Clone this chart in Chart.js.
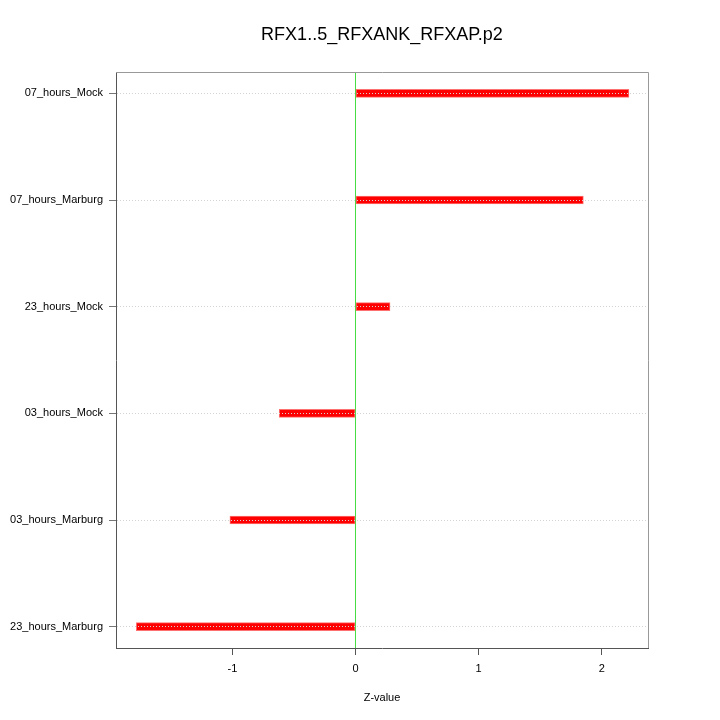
<!DOCTYPE html>
<html>
<head>
<meta charset="utf-8">
<script src="https://cdn.jsdelivr.net/npm/chart.js@4"></script>
<style>
  html, body { margin: 0; padding: 0; background: #fff; }
  #wrap { width: 720px; height: 720px; }
</style>
</head>
<body>
<div id="wrap"><canvas id="chart" width="720" height="720"></canvas></div>
<script>
// categories, top to bottom
const samples = ['07_hours_Mock', '07_hours_Marburg', '23_hours_Mock', '03_hours_Mock', '03_hours_Marburg', '23_hours_Marburg'];
const zValues = [2.22, 1.85, 0.28, -0.62, -1.02, -1.78];
const xTicks = [-1, 0, 1, 2];

const FONT = '"Liberation Sans", Arial, sans-serif';

// top and right sides of the box
const frame = {
    id: 'frame',
    afterDraw(chart) {
        const { ctx, chartArea: a } = chart;
        ctx.save();
        ctx.strokeStyle = '#999';
        ctx.lineWidth = 1;
        ctx.beginPath();
        ctx.moveTo(a.left, a.top + 0.5);
        ctx.lineTo(a.right + 0.5, a.top + 0.5);
        ctx.lineTo(a.right + 0.5, a.bottom);
        ctx.stroke();
        ctx.restore();
    }
};

new Chart(document.getElementById('chart'), {
    type: 'bar',
    data: {
        datasets: [{
            data: zValues.map((v, i) => ({ x: v, y: i })),
            backgroundColor: '#ff0000',
            borderColor: '#ff7070',
            borderWidth: 1,
            borderSkipped: false,
            barThickness: 8
        }]
    },
    options: {
        indexAxis: 'y',
        responsive: false,
        animation: false,
        layout: { padding: { left: 0, right: 72, top: 0, bottom: 0 } },
        plugins: {
            legend: { display: false },
            tooltip: { enabled: false },
            title: {
                display: true,
                fullSize: false,
                text: 'RFX1..5_RFXANK_RFXAP.p2',
                color: '#000',
                font: { family: FONT, size: 18, weight: 'normal' },
                padding: { top: 24, bottom: 26.4 }
            }
        },
        scales: {
            x: {
                type: 'linear',
                min: -1.945,
                max: 2.375,
                afterBuildTicks: s => { s.ticks = xTicks.map(v => ({ value: v })); },
                afterFit: s => { s.height = 72; },
                grid: {
                    color: c => (c.tick && c.tick.value === 0) ? '#44dd44' : 'rgba(0,0,0,0)',
                    tickColor: '#555',
                    tickLength: 7
                },
                border: { color: '#555', width: 1 },
                ticks: {
                    color: '#000',
                    font: { family: FONT, size: 11 },
                    padding: 7,
                    maxRotation: 0,
                    callback: v => String(v)
                },
                title: {
                    display: true,
                    text: 'Z-value',
                    color: '#000',
                    font: { family: FONT, size: 11 },
                    padding: { top: 0, bottom: 15 }
                }
            },
            y: {
                type: 'linear',
                reverse: true,
                offset: false,
                min: -0.2,
                max: 5.2,
                afterBuildTicks: s => { s.ticks = samples.map((_, i) => ({ value: i })); },
                afterFit: s => { s.width = 116; },
                grid: {
                    z: 1,
                    offset: false,
                    color: '#d4d4d4',
                    tickColor: '#777',
                    tickLength: 7,
                    tickBorderDash: []
                },
                border: { z: 2, color: '#555', width: 1, dash: [1, 2] },
                ticks: {
                    color: '#000',
                    font: { family: FONT, size: 11 },
                    padding: 6,
                    callback: v => samples[v] ?? ''
                }
            }
        }
    },
    plugins: [frame]
});
</script>
</body>
</html>
